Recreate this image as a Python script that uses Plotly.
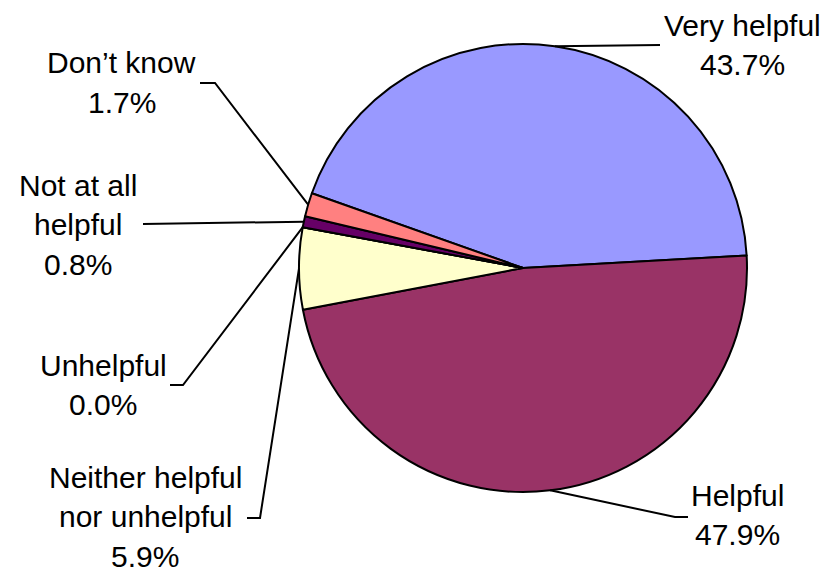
import math
import plotly.graph_objects as go

# ---- data ----
categories = ["Very helpful", "Helpful", "Neither helpful nor unhelpful",
              "Unhelpful", "Not at all helpful", "Don\u2019t know"]
values = [43.7, 47.9, 5.9, 0.0, 0.8, 1.7]
colors = ["#9999FF", "#993366", "#FFFFCC", "#CCFFFF", "#660066", "#FF8080"]
label_lines = [["Very helpful"], ["Helpful"], ["Neither helpful", "nor unhelpful"],
               ["Unhelpful"], ["Not at all", "helpful"], ["Don\u2019t know"]]

# ---- layout (pixels) ----
W, H = 833, 572
CX, CY, R = 523, 268, 224
START = 160.5  # math angle (deg) where first slice starts, going clockwise

# label text centres (x, first-line y) and leader elbow points
label_pos = [(742, 25), (737, 495), (145, 477), (103, 365), (78, 185), (122, 63)]
leader_pts = [[(660, 45)], [(675, 517), (688, 517)], [(260, 518), (247, 518)],
              [(183, 385), (170, 385)], [(143, 224)], [(215, 83), (200, 83)]]
LINE_GAP = 39.5

def px(x):
    return x / W

def py(y):
    return 1 - y / H

FONT = dict(family="Liberation Sans, Arial, sans-serif", size=30, color="black")

fig = go.Figure(go.Pie(
    labels=categories, values=values, sort=False, direction="clockwise",
    rotation=90 - START, textinfo="none", hoverinfo="label+percent",
    marker=dict(colors=colors, line=dict(color="black", width=2)),
    domain=dict(x=[px(CX - R), px(CX + R)], y=[py(CY + R), py(CY - R)]),
    showlegend=False,
))

total = sum(values)
cum = 0.0
annotations = []
shapes = []
for i, v in enumerate(values):
    mid = START - 360 * (cum + v / 2) / total
    cum += v
    ax = CX + R * math.cos(math.radians(mid))
    ay = CY - R * math.sin(math.radians(mid))
    pts = [(ax, ay)] + leader_pts[i]
    path = "M " + " L ".join(f"{px(x)},{py(y)}" for x, y in pts)
    shapes.append(dict(type="path", xref="paper", yref="paper", path=path,
                       line=dict(color="black", width=2)))
    lx, ly = label_pos[i]
    lines = label_lines[i] + [f"{v:.1f}%"]
    for k, t in enumerate(lines):
        annotations.append(dict(text=t, x=px(lx), y=py(ly + k * LINE_GAP),
                                xref="paper", yref="paper", showarrow=False,
                                xanchor="center", yanchor="middle", font=FONT))

fig.update_layout(width=W, height=H, margin=dict(l=0, r=0, t=0, b=0),
                  paper_bgcolor="white", plot_bgcolor="white",
                  annotations=annotations, shapes=shapes)
fig.write_html("out.html", config={"displayModeBar": False},
               post_script="document.body.style.margin='0';"
                           "document.body.style.overflow='hidden';")
